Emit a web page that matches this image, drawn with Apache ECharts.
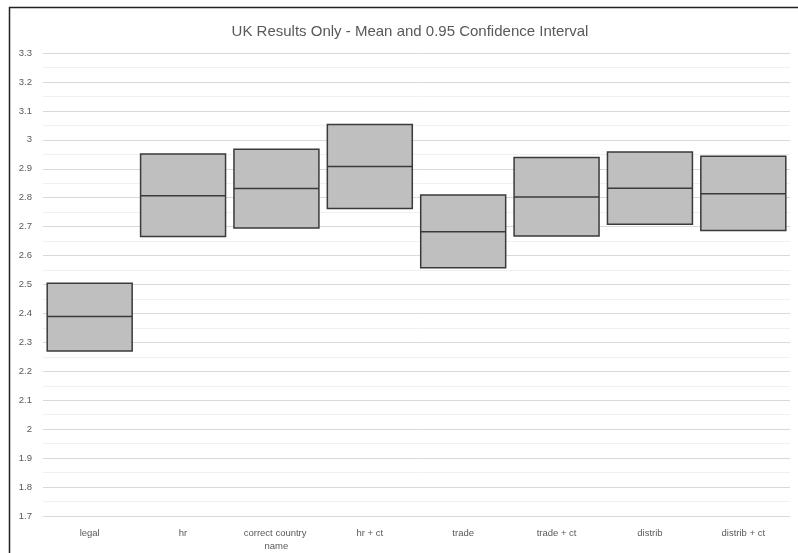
<!DOCTYPE html>
<html>
<head>
<meta charset="utf-8">
<script src="https://cdn.jsdelivr.net/npm/echarts@6/dist/echarts.min.js"></script>
<style>
html,body{margin:0;padding:0;background:#fff;}
#chart{width:798px;height:553px;}
</style>
</head>
<body>
<div id="chart"></div>
<script>
var categories = ['legal', 'hr', 'correct country name', 'hr + ct', 'trade', 'trade + ct', 'distrib', 'distrib + ct'];
var lowValues  = [2.270, 2.666, 2.695, 2.763, 2.558, 2.668, 2.708, 2.687];
var meanValues = [2.389, 2.807, 2.832, 2.908, 2.682, 2.802, 2.833, 2.814];
var highValues = [2.504, 2.951, 2.967, 3.053, 2.809, 2.939, 2.958, 2.943];

var boxData = categories.map(function (c, i) {
  return [i, lowValues[i], meanValues[i], highValues[i]];
});

var chart = echarts.init(document.getElementById('chart'));
chart.setOption({
  animation: false,
  backgroundColor: '#fff',
  title: {
    text: 'UK Results Only - Mean and 0.95 Confidence Interval',
    left: 405,
    textAlign: 'center',
    top: 19,
    textStyle: { fontFamily: 'Liberation Sans', fontSize: 15, fontWeight: 'normal', color: '#595959' }
  },
  graphic: [{
    type: 'rect',
    shape: { x: 9.5, y: 7.5, width: 800, height: 560 },
    style: { fill: 'none', stroke: '#222', lineWidth: 1.5 },
    silent: true
  }],
  grid: { left: 43, right: 8, top: 53, bottom: 37 },
  xAxis: {
    type: 'category',
    data: categories,
    axisLine: { show: false },
    axisTick: { show: false },
    axisLabel: {
      interval: 0,
      margin: 11,
      width: 85,
      overflow: 'break',
      lineHeight: 13,
      fontFamily: 'Liberation Sans',
      fontSize: 9.5,
      color: '#595959'
    }
  },
  yAxis: {
    type: 'value',
    min: 1.7,
    max: 3.3,
    interval: 0.1,
    axisLine: { show: false },
    axisTick: { show: false },
    axisLabel: { margin: 11, fontFamily: 'Liberation Sans', fontSize: 9.5, color: '#595959' },
    splitLine: { lineStyle: { color: '#d9d9d9', width: 1 } },
    minorTick: { show: false, splitNumber: 2 },
    minorSplitLine: { show: true, lineStyle: { color: '#f0f0f0', width: 1 } }
  },
  series: [{
    type: 'custom',
    data: boxData,
    encode: { x: 0, y: [1, 2, 3] },
    renderItem: function (params, api) {
      var idx = api.value(0);
      var lo = api.coord([idx, api.value(1)]);
      var mid = api.coord([idx, api.value(2)]);
      var hi = api.coord([idx, api.value(3)]);
      var w = api.size([1, 0])[0] * 0.91;
      var x0 = lo[0] - w / 2;
      return {
        type: 'group',
        children: [{
          type: 'rect',
          shape: { x: x0, y: hi[1], width: w, height: lo[1] - hi[1] },
          style: { fill: '#bfbfbf', stroke: '#3a3a3a', lineWidth: 1.5 }
        }, {
          type: 'line',
          shape: { x1: x0, y1: mid[1], x2: x0 + w, y2: mid[1] },
          style: { stroke: '#3a3a3a', lineWidth: 1.5 }
        }]
      };
    }
  }]
});
</script>
</body>
</html>
